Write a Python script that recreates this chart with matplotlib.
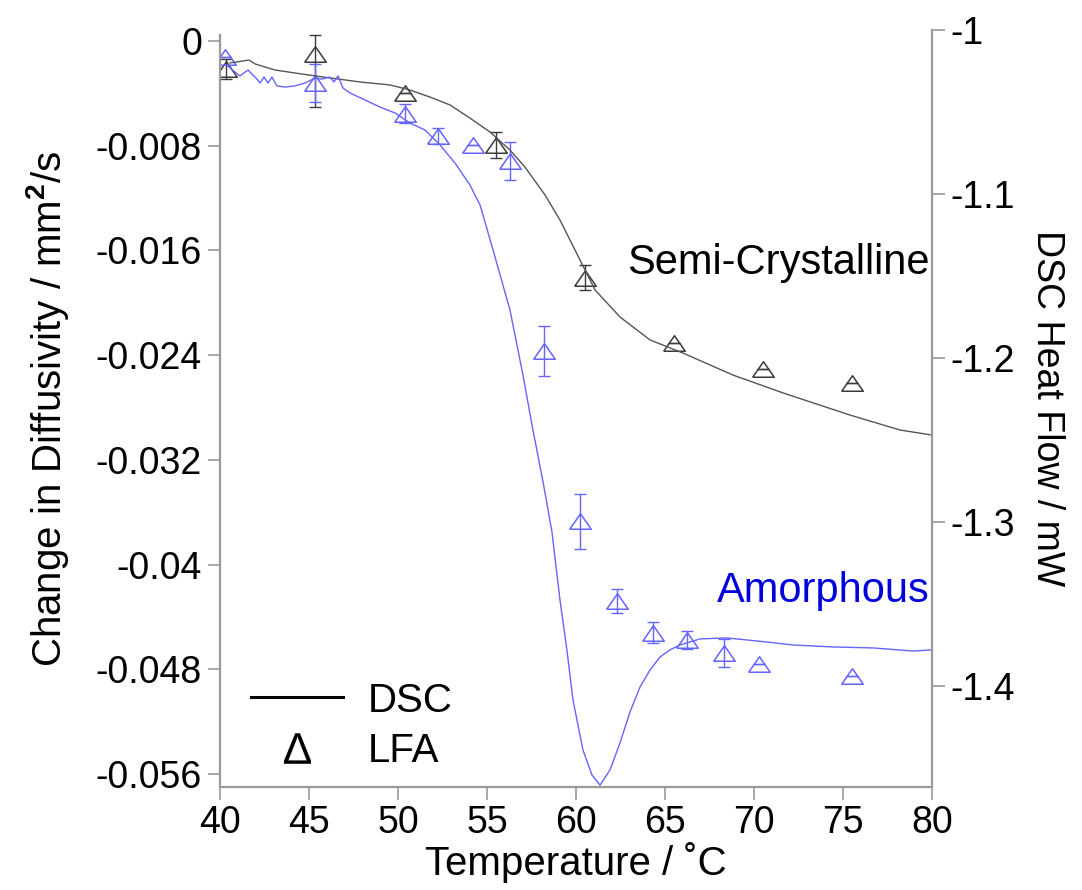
import matplotlib
matplotlib.use("Agg")
import matplotlib.pyplot as plt
from matplotlib.lines import Line2D
from matplotlib.ticker import FormatStrFormatter
import numpy as np

plt.rcParams['font.family'] = ['Liberation Sans', 'DejaVu Sans']
plt.rcParams['mathtext.fontset'] = 'custom'
plt.rcParams['mathtext.rm'] = 'Liberation Sans'
plt.rcParams['mathtext.bf'] = 'Liberation Sans:bold'
plt.rcParams['axes.unicode_minus'] = False

# LFA, semi-crystalline (black)
lfa_sc_T = [40.34, 45.34, 50.39, 55.5, 60.5, 65.5, 70.5, 75.5]
lfa_sc_d = [-0.00214, -0.00096, -0.00401, -0.00795, -0.0181, -0.02307, -0.02506, -0.02613]
lfa_sc_err_lo = [0.0008, 0.0041, 0.0, 0.0010, 0.00095, 0.0, 0.0, 0.0]
lfa_sc_err_hi = [0.0008, 0.0014, 0.0, 0.0010, 0.00095, 0.0, 0.0, 0.0]

# LFA, amorphous (blue)
lfa_am_T = [40.3, 45.34, 50.39, 52.25, 54.21, 56.29, 58.2, 60.22, 62.3, 64.33, 66.24, 68.31, 70.28, 75.5]
lfa_am_d = [-0.00122, -0.00321, -0.00554, -0.00726, -0.00795, -0.00917, -0.02369, -0.03668,
            -0.04279, -0.04523, -0.04577, -0.04676, -0.0476, -0.04852]
lfa_am_err = [0.0, 0.00145, 0.0007, 0.0006, 0.0, 0.00145, 0.0019, 0.0021,
              0.0009, 0.0008, 0.0007, 0.0011, 0.0, 0.0]

# DSC, semi-crystalline
dsc_sc_T = [40.56, 41.63, 41.97, 43.09, 45.34, 47.87, 49.55, 50.67, 51.80, 52.92, 54.04, 55.17,
            56.29, 57.13, 58.26, 59.10, 59.94, 61.07, 62.47, 64.16, 66.01, 68.82, 71.63, 75.39,
            78.20, 80.0]
dsc_sc_H = [-1.0201, -1.0183, -1.0207, -1.0244, -1.0280, -1.0317, -1.0335, -1.0366, -1.0409,
            -1.0457, -1.0537, -1.0622, -1.0732, -1.0835, -1.1006, -1.1159, -1.1341, -1.1585,
            -1.1750, -1.1890, -1.1970, -1.2104, -1.2213, -1.2348, -1.2439, -1.2470]

# DSC, amorphous
dsc_am_T = [40.45, 40.84, 41.12, 41.57, 42.02, 42.25, 42.47, 42.70, 42.92, 43.20, 43.65, 44.21,
            44.78, 45.34, 45.73, 46.18, 46.40, 46.63, 46.91, 47.30, 48.15, 48.99, 49.83, 50.67,
            51.52, 52.36, 53.20, 54.04, 54.61, 55.34, 56.29, 57.02, 57.58, 58.15, 58.65, 59.10,
            59.49, 59.83, 60.39, 60.90, 61.35, 61.91, 62.47, 63.03, 63.60, 64.16, 64.72, 65.28,
            65.84, 66.97, 68.48, 70.73, 72.19, 74.44, 76.69, 78.93, 80.0]
dsc_am_H = [-1.0220, -1.0256, -1.0280, -1.0244, -1.0293, -1.0323, -1.0287, -1.0323, -1.0287,
            -1.0341, -1.0348, -1.0341, -1.0323, -1.0293, -1.0299, -1.0287, -1.0317, -1.0280,
            -1.0354, -1.0384, -1.0427, -1.0470, -1.0506, -1.0567, -1.0610, -1.0701, -1.0811,
            -1.0945, -1.1067, -1.1341, -1.1707, -1.2104, -1.2439, -1.2756, -1.3061, -1.3476,
            -1.3780, -1.4085, -1.4390, -1.4543, -1.4605, -1.4512, -1.4348, -1.4159, -1.4006,
            -1.3902, -1.3823, -1.3780, -1.3750, -1.3713, -1.3707, -1.3732, -1.3750, -1.3762,
            -1.3768, -1.3787, -1.3780]

black = '#3a3a3a'
blue = '#6464ff'
axis_gray = '#9a9a9a'

tri = [(-1, -0.72), (1, -0.72), (0, 0.72), (-1, -0.72)]

fig = plt.figure(figsize=(10.82, 8.9), dpi=100)
ax = fig.add_axes([220 / 1082, 1 - 787 / 890, 712 / 1082, 757 / 890])
ax2 = ax.twinx()

ax2.plot(dsc_sc_T, dsc_sc_H, color='#555555', lw=1.0)
ax2.plot(dsc_am_T, dsc_am_H, color=blue, lw=1.0)

ax.errorbar(lfa_sc_T, lfa_sc_d, yerr=[lfa_sc_err_lo, lfa_sc_err_hi], fmt='none',
            ecolor=black, elinewidth=1.0, capsize=4.3, capthick=1.0)
ax.plot(lfa_sc_T, lfa_sc_d, ls='none', marker=tri, ms=15.5, mfc='none', mec=black, mew=1.1)
ax.errorbar(lfa_am_T, lfa_am_d, yerr=lfa_am_err, fmt='none',
            ecolor=blue, elinewidth=1.0, capsize=4.3, capthick=1.0)
ax.plot(lfa_am_T, lfa_am_d, ls='none', marker=tri, ms=15.5, mfc='none', mec=blue, mew=1.1)

ax.set_xlim(40, 80)
ax.set_ylim(-0.0570, 0.00084)
ax2.set_ylim(-1.4616, -1.0)
ax.set_xticks(np.arange(40, 81, 5))
ax.set_yticks([0, -0.008, -0.016, -0.024, -0.032, -0.04, -0.048, -0.056])
ax2.set_yticks([-1, -1.1, -1.2, -1.3, -1.4])
ax.yaxis.set_major_formatter(FormatStrFormatter('%g'))
ax2.yaxis.set_major_formatter(FormatStrFormatter('%g'))

for a in (ax, ax2):
    a.spines['top'].set_visible(False)
    for s in a.spines.values():
        s.set_color(axis_gray)
        s.set_linewidth(1.6)
    a.tick_params(direction='out', length=9, width=1.2, color=axis_gray,
                  labelsize=27, pad=4)
ax.spines['right'].set_visible(False)
ax2.spines['left'].set_visible(False)
ax2.spines['bottom'].set_visible(False)
ax.spines['left'].set_bounds(-0.0570, 0.00046)

ax.set_xlabel('Temperature / ˚C', fontsize=29, labelpad=1)
ax.set_ylabel(r'Change in Diffusivity / mm$^\mathbf{2}$/s', fontsize=29, labelpad=18)
ax2.set_ylabel('DSC Heat Flow / mW', fontsize=27, rotation=270, labelpad=36)

ax.text(0.997, 0.678, 'Semi-Crystalline', transform=ax.transAxes, ha='right',
        va='baseline', fontsize=30, color='black')
ax.text(0.997, 0.245, 'Amorphous', transform=ax.transAxes, ha='right',
        va='baseline', fontsize=30, color='#0000dd')

handles = [Line2D([], [], color='black', lw=2.2),
           Line2D([], [], ls='none', marker=r'$\Delta$', color='black', ms=22, mew=0)]
ax.legend(handles, ['DSC', 'LFA'], loc='lower left', frameon=False, fontsize=29,
          handlelength=2.3, handletextpad=0.6, labelspacing=0.3,
          bbox_to_anchor=(-0.008, -0.025))

fig.savefig('out.png', dpi=100)
